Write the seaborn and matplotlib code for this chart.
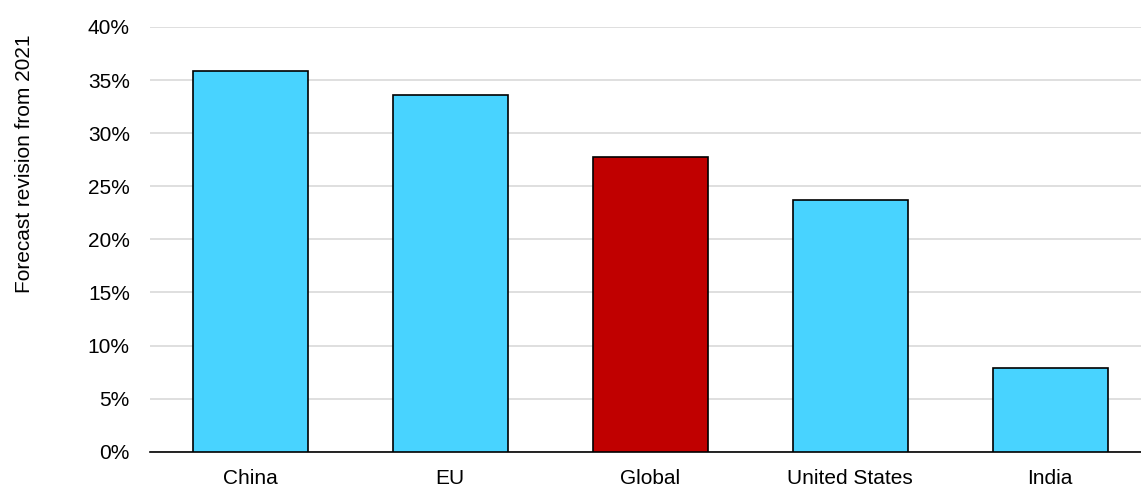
import matplotlib
matplotlib.use("Agg")
import matplotlib.pyplot as plt
import seaborn as sns
import pandas as pd
from matplotlib.ticker import PercentFormatter

regions = ["China", "EU", "Global", "United States", "India"]
revision = [0.359, 0.336, 0.2775, 0.237, 0.0785]
bar_colors = ["#48D3FF", "#48D3FF", "#C00000", "#48D3FF", "#48D3FF"]

df = pd.DataFrame({"region": regions, "revision": revision})

sns.set_style("white")
plt.rcParams["font.family"] = ["Liberation Sans", "DejaVu Sans"]

fig = plt.figure(figsize=(11.41, 4.87), dpi=100)
ax = fig.add_axes([150 / 1141, 1 - 451.7 / 487, 1 - 150 / 1141, (451.7 - 27) / 487])

sns.barplot(data=df, x="region", y="revision", hue="region", palette=bar_colors,
            saturation=1, legend=False, width=0.575, edgecolor="black",
            linewidth=1.2, ax=ax, zorder=3)

ax.set_ylim(0, 0.4)
ax.set_xlim(-0.5, -0.5 + (1141 - 150) / 200)
ax.set_yticks([i * 0.05 for i in range(9)])
ax.yaxis.set_major_formatter(PercentFormatter(1.0, decimals=0))
ax.grid(axis="y", color="#D9D9D9", linewidth=1.2, zorder=0)
ax.set_axisbelow(True)
for s in ["top", "right", "left"]:
    ax.spines[s].set_visible(False)
ax.spines["bottom"].set_color("black")
ax.spines["bottom"].set_linewidth(1.2)
ax.tick_params(axis="both", length=0, labelsize=15, colors="black")
ax.tick_params(axis="x", pad=12.5)
ax.tick_params(axis="y", pad=14.5)
ax.set_xlabel("")
ax.set_ylabel("Forecast revision from 2021", fontsize=15, color="black")
ax.yaxis.set_label_coords(-116 / 991, (451.7 - 164) / (451.7 - 27))

fig.savefig("out.png", dpi=100)
